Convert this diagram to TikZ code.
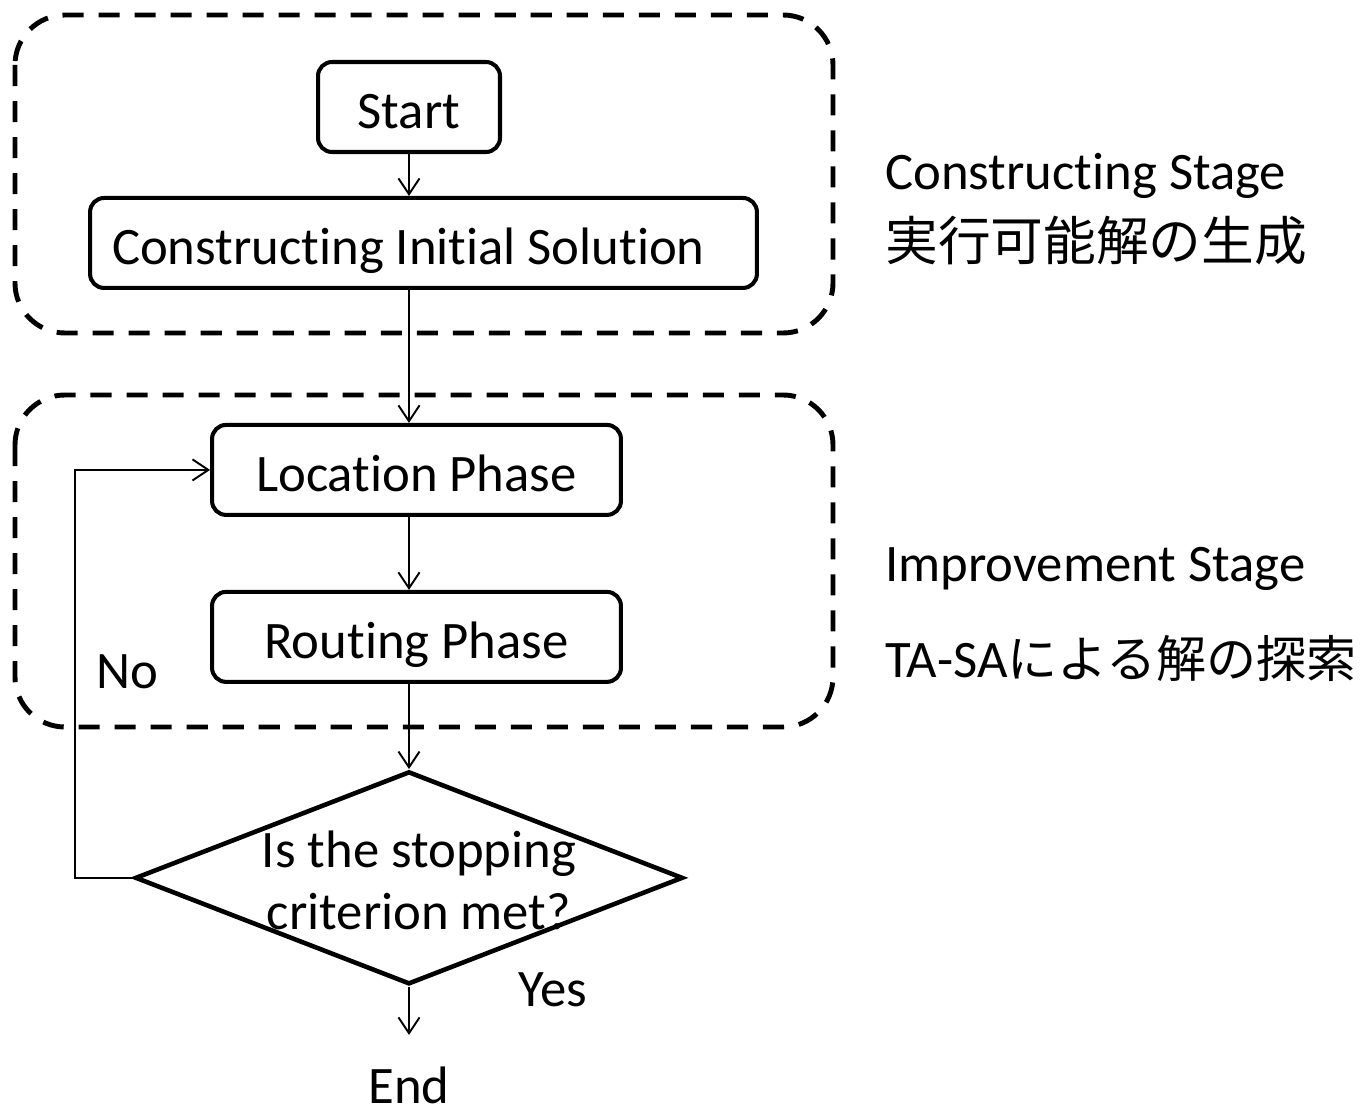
\documentclass[tikz,border=0pt]{standalone}
\usepackage{fontspec}
\setmainfont[Ligatures=NoCommon]{Carlito}
\newfontfamily\jpfont{Noto Sans CJK JP}
\usetikzlibrary{shapes,arrows,arrows.meta,positioning}
\tikzstyle{block}    = [draw, line width=2.3pt, rounded corners=8pt, minimum height=1.8cm, inner sep=0.44cm, text height=24.6pt, text depth=0pt]
\tikzstyle{decision} = [draw, diamond, line width=2.6pt, minimum width=10.96cm, minimum height=4.26cm, inner sep=0pt]
\tikzstyle{stage}    = [draw, line width=2.8pt, dash pattern=on 12pt off 8.5pt, rounded corners=1cm]
\tikzstyle{line}     = [draw, line width=1.1pt, -{Straight Barb[length=9pt,width=12pt]}]
\tikzstyle{point}    = [inner sep=0pt]

\begin{document}
\begin{tikzpicture}[x=0.02cm, y=-0.02cm, font=\fontsize{30}{35}\selectfont]
	\useasboundingbox (0,0) rectangle (1366,1114);
	% Stage Frames %
	\draw [stage] (15,15) rectangle (833,333);
	\draw [stage] (15,395) rectangle (833,727);
	% Node Setting %
	\node [block, minimum width=3.64cm] (start) at (409,107) {Start};
	\node [block, below of = start, node distance=2.72cm, xshift=0.29cm, text width=12.46cm, align=flush left] (cis) {Constructing Initial Solution};
	\node [block, below of = cis, node distance=4.54cm, xshift=-0.14cm, minimum width=8.18cm] (loc) {Location Phase};
	\node [block, below of = loc, node distance=3.34cm, minimum width=8.18cm] (rout) {Routing Phase};
	\node [decision, below of = rout, node distance=4.82cm, xshift=-0.15cm,
		label={[align=center, xshift=0.2cm, yshift=-0.05cm]center:Is the stopping\\criterion met?}] (check) {};
	\node [point, below of = check, node distance=4.16cm] (stop) {End};
	\node [point] (yes) at (553,990) {Yes};
	\node [point] (no) at (127,672) {No};
	\node [point, anchor=west] (cstage) at (885,176) {Constructing Stage};
	\node [point, anchor=west] (cstagejp) at (885,241) {\jpfont 実行可能解の生成};
	\node [point, anchor=west] (istage) at (885,569) {Improvement Stage};
	\node [point, anchor=west] (istagejp) at (885,658) {TA-SA{\jpfont\fontsize{28.5}{35}\selectfont による解の探索}};
	% Connection %
	\path [line] (start)  -- (start |- cis.north);
	\path [line] (cis.south -| start)  -- (start |- loc.north);
	\path [line] (loc.south -| start)  -- (start |- rout.north);
	\path [line] (rout.south -| check)  -- (check.north);
	\path [line, shorten >=0.64cm] (check)  -- (stop);
	\path [line] (check.west)  -- ++(-58,0) |- (loc.west);
\end{tikzpicture}
\end{document}
